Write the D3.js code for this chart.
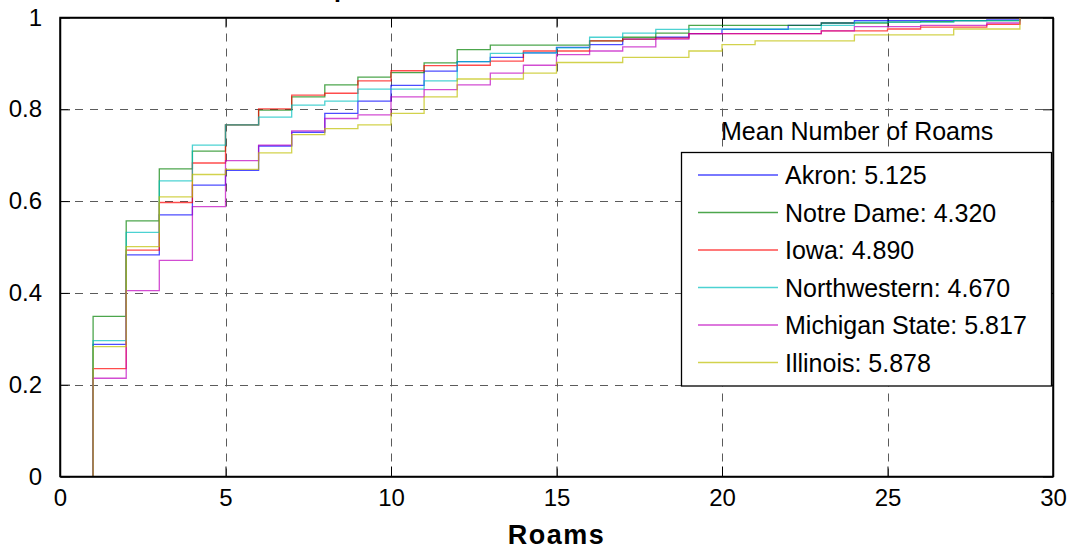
<!DOCTYPE html>
<html><head><meta charset="utf-8">
<script src="https://d3js.org/d3.v7.min.js"></script>
<style>
html,body{margin:0;padding:0;background:#fff;}
svg{display:block;font-family:"Liberation Sans",Arial,sans-serif;}
</style></head>
<body>
<svg id="chart" width="1071" height="552"></svg>
<script>
// ---- data ----
const roams = [1,2,3,4,5,6,7,8,9,10,11,12,13,14,15,16,17,18,19,20,21,22,23,24,25,26,27,28,29];
const akron        = [0.288,0.483,0.570,0.635,0.667,0.720,0.750,0.791,0.818,0.852,0.883,0.904,0.913,0.923,0.935,0.941,0.953,0.957,0.965,0.974,0.974,0.983,0.988,0.993,0.993,0.993,0.993,0.995,1];
const notreDame    = [0.349,0.557,0.670,0.709,0.766,0.798,0.827,0.853,0.870,0.880,0.901,0.930,0.940,0.940,0.940,0.949,0.957,0.966,0.983,0.983,0.983,0.983,0.988,0.988,0.990,0.991,0.993,0.993,1];
const iowa         = [0.235,0.493,0.597,0.683,0.766,0.801,0.831,0.835,0.862,0.884,0.895,0.896,0.905,0.927,0.927,0.949,0.953,0.955,0.965,0.965,0.965,0.965,0.971,0.971,0.975,0.979,0.979,0.985,1];
const northwestern = [0.296,0.532,0.644,0.722,0.766,0.783,0.809,0.818,0.844,0.844,0.862,0.904,0.922,0.923,0.934,0.957,0.966,0.974,0.975,0.975,0.975,0.975,0.983,0.990,0.990,0.990,0.993,0.993,1];
const michiganSt   = [0.214,0.405,0.471,0.588,0.688,0.722,0.753,0.780,0.788,0.827,0.843,0.853,0.879,0.896,0.919,0.927,0.936,0.953,0.965,0.965,0.965,0.965,0.971,0.980,0.980,0.983,0.983,0.988,1];
const illinois     = [0.283,0.501,0.609,0.658,0.669,0.705,0.745,0.758,0.766,0.791,0.827,0.866,0.866,0.879,0.902,0.902,0.913,0.913,0.927,0.941,0.949,0.949,0.949,0.962,0.962,0.962,0.975,0.975,1];
const seriesNames  = ["Akron: 5.125","Notre Dame: 4.320","Iowa: 4.890","Northwestern: 4.670","Michigan State: 5.817","Illinois: 5.878"];
const seriesColors = ["#0000ff","#008000","#ff0000","#00bfbf","#bf00bf","#bfbf00"];
const xTicks = [0,5,10,15,20,25,30];
const yTicks = [0,0.2,0.4,0.6,0.8,1];
const xLabel = "Roams";
const legendTitle = "Mean Number of Roams";
const titleText = "Empirical CDF";

const seriesValues = [akron, notreDame, iowa, northwestern, michiganSt, illinois];

// ---- layout ----
const svg = d3.select("#chart");
const L = 60, R = 1053, T = 17.5, B = 476.5;
const x = d3.scaleLinear().domain([0,30]).range([L,R]);
const y = d3.scaleLinear().domain([0,1]).range([B,T]);

// title (mostly clipped above the page)
svg.append("text").attr("x",295).attr("y",-3).attr("font-size",25).attr("font-weight","bold")
  .attr("fill","#000").text(titleText);

// grid
const grid = svg.append("g").attr("stroke","#333").attr("stroke-width",1).attr("stroke-dasharray","8,7").attr("opacity",0.8);
xTicks.slice(1,-1).forEach(t=>{
  grid.append("line").attr("x1",Math.round(x(t))+0.5).attr("x2",Math.round(x(t))+0.5).attr("y1",B).attr("y2",T);
});
yTicks.slice(1,-1).forEach(t=>{
  grid.append("line").attr("y1",Math.round(y(t))+0.5).attr("y2",Math.round(y(t))+0.5).attr("x1",L).attr("x2",R);
});

// axes
const fs = 24;
const axB = svg.append("g").attr("transform",`translate(0,${B})`)
  .call(d3.axisBottom(x).tickValues(xTicks).tickSizeInner(-10).tickSizeOuter(0).tickPadding(12).tickFormat(d3.format("d")));
const axT = svg.append("g").attr("transform",`translate(0,${T})`)
  .call(d3.axisTop(x).tickValues(xTicks).tickSizeInner(-10).tickSizeOuter(0).tickFormat(""));
const axL = svg.append("g").attr("transform",`translate(${L},0)`)
  .call(d3.axisLeft(y).tickValues(yTicks).tickSizeInner(-10).tickSizeOuter(0).tickPadding(18).tickFormat(d=>d===0?"0":d===1?"1":d3.format(".1f")(d)));
const axR = svg.append("g").attr("transform",`translate(${R},0)`)
  .call(d3.axisRight(y).tickValues(yTicks).tickSizeInner(-10).tickSizeOuter(0).tickFormat(""));
[axB,axT,axL,axR].forEach(a=>{
  a.selectAll("path").attr("stroke","#000").attr("stroke-width",1.5);
  a.selectAll("line").attr("stroke","#000").attr("stroke-width",1);
  a.selectAll("text").attr("font-size",fs).attr("fill","#000").attr("font-family","'Liberation Sans',Arial,sans-serif");
});
axB.selectAll("text").attr("dy","0.71em");

// series
const line = d3.line().x(d=>x(d[0])).y(d=>y(d[1])).curve(d3.curveStepAfter);
seriesValues.forEach((vals,i)=>{
  const pts = [[roams[0],0]].concat(roams.map((r,k)=>[r,vals[k]]));
  svg.append("path").datum(pts).attr("d",line).attr("fill","none")
    .attr("stroke",seriesColors[i]).attr("stroke-width",1.3).attr("stroke-opacity",0.7);
});

// box frame
svg.append("rect").attr("x",L).attr("y",T).attr("width",R-L).attr("height",B-T)
  .attr("fill","none").attr("stroke","#000").attr("stroke-width",1.5);

// x label
svg.append("text").attr("x",(L+R)/2).attr("y",544).attr("text-anchor","middle")
  .attr("font-size",27).attr("font-weight","bold").attr("letter-spacing",1.5).attr("fill","#000").text(xLabel);

// legend
const lg = svg.append("g");
lg.append("rect").attr("x",681.5).attr("y",152.5).attr("width",370).attr("height",233.5)
  .attr("fill","#fff").attr("stroke","#000").attr("stroke-width",1.3);
lg.append("text").attr("x",721).attr("y",140).attr("font-size",25).attr("fill","#000").text(legendTitle);
seriesNames.forEach((n,i)=>{
  const yy = 175 + i*37.5;
  lg.append("line").attr("x1",698).attr("x2",778).attr("y1",yy).attr("y2",yy)
    .attr("stroke",seriesColors[i]).attr("stroke-width",1.3).attr("stroke-opacity",0.7);
  lg.append("text").attr("x",785).attr("y",yy+9).attr("font-size",25).attr("fill","#000").text(n);
});
</script>
</body></html>
